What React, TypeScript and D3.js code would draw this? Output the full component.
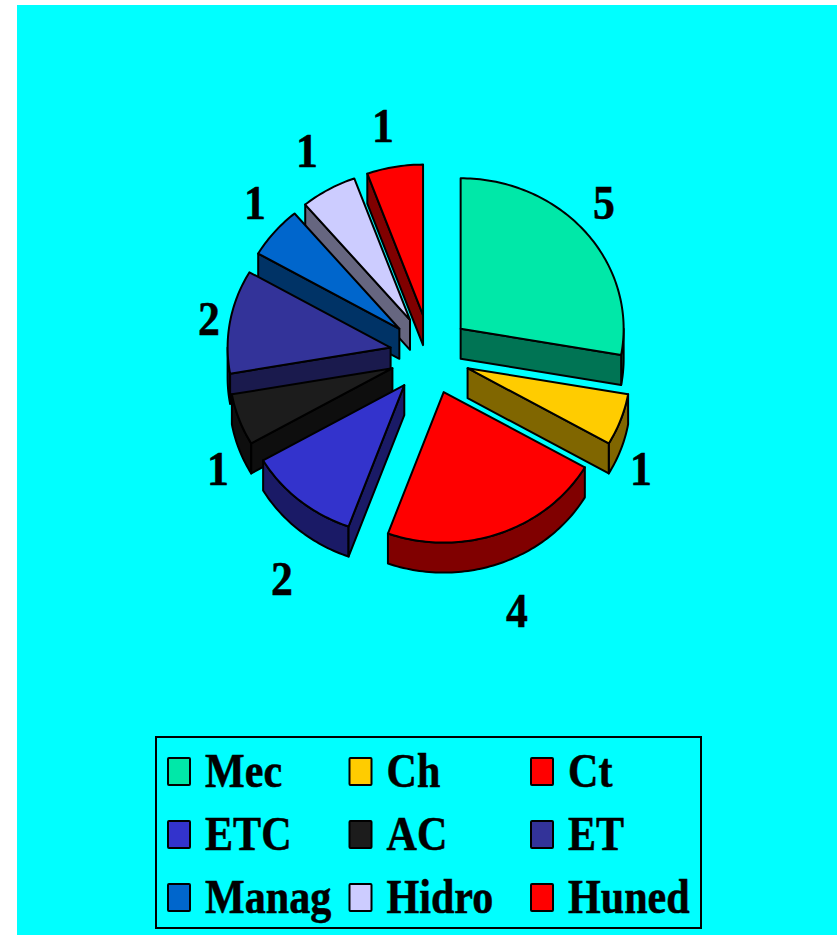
import React from "react";
import * as d3 from "d3";

const categories = ["Mec", "Ch", "Ct", "ETC", "AC", "ET", "Manag", "Hidro", "Huned"];
const values = [5, 1, 4, 2, 1, 2, 1, 1, 1];
const topColors = ["#00E8A8", "#FFCC00", "#FF0000", "#3333CC", "#1C1C1C", "#333399", "#0066CC", "#CCCCFF", "#FF0000"];
const sideColors = ["#007454", "#806600", "#800000", "#1A1A66", "#0E0E0E", "#1A1A4D", "#003366", "#666680", "#800000"];
const drawOrder = [8, 7, 6, 5, 4, 3, 0, 1, 2];
// data label placement [centre x, baseline y]
const labelAnchors: [number, number][] = [
  [604, 219], [641, 485], [517, 627], [282, 595], [218, 485], [209, 335], [255, 219], [307, 167], [383, 142],
];

const W = 837, H = 935;
const CX = 430, CY = 354.5, RX = 163, RY = 150.5, DEPTH = 30, EXPLODE = 40;
const FONT = "'Liberation Serif', 'Times New Roman', serif";

const pie = d3.pie<number>().sort(null).startAngle(0).endAngle(2 * Math.PI);
const arcs = pie(values);
const line = d3.line<[number, number]>();

function pt(apex: [number, number], a: number, dy = 0): [number, number] {
  return [apex[0] + RX * Math.sin(a), apex[1] - RY * Math.cos(a) + dy];
}
function arcPts(apex: [number, number], a0: number, a1: number, dy = 0): [number, number][] {
  const n = Math.max(2, Math.ceil((a1 - a0) / 0.02));
  return d3.range(n + 1).map((i) => pt(apex, a0 + ((a1 - a0) * i) / n, dy));
}

function Slice({ i }: { i: number }) {
  const { startAngle: a0, endAngle: a1 } = arcs[i];
  const mid = (a0 + a1) / 2;
  const apex: [number, number] = [CX + EXPLODE * Math.sin(mid), CY - EXPLODE * Math.cos(mid)];
  const low: [number, number] = [apex[0], apex[1] + DEPTH];
  const sides: [number, number][][] = [];
  if (Math.sin(a0) < 0) {
    sides.push([apex, pt(apex, a0), pt(apex, a0, DEPTH), low]);
  }
  if (Math.sin(a1) > 0) {
    sides.push([apex, pt(apex, a1), pt(apex, a1, DEPTH), low]);
  }
  const w0 = Math.max(a0, Math.PI / 2);
  const w1 = Math.min(a1, (3 * Math.PI) / 2);
  const wall =
    w1 > w0 ? [...arcPts(apex, w0, w1), ...arcPts(apex, w0, w1, DEPTH).reverse()] : null;
  const top: [number, number][] = [apex, ...arcPts(apex, a0, a1)];
  const common = { stroke: "#000", strokeWidth: 2, strokeLinejoin: "round" as const };
  return (
    <g>
      {wall && <path d={line(wall) + "Z"} fill={sideColors[i]} {...common} />}
      {sides.map((s, k) => (
        <path key={k} d={line(s) + "Z"} fill={sideColors[i]} {...common} />
      ))}
      <path d={line(top) + "Z"} fill={topColors[i]} {...common} />
    </g>
  );
}

const colX = d3.scalePoint<number>().domain([0, 1, 2]).range([168, 531]);
const rowY = d3.scalePoint<number>().domain([0, 1, 2]).range([758, 884]);

export default function App() {
  return (
    <svg
      width={W}
      height={H}
      viewBox={`0 0 ${W} ${H}`}
      style={{ position: "absolute", left: 0, top: 0, display: "block" }}
    >
      <rect x={0} y={0} width={W} height={H} fill="#FFFFFF" />
      <rect x={17} y={5} width={W - 17} height={H - 5} fill="#00FFFF" />
      {drawOrder.map((i) => (
        <Slice key={i} i={i} />
      ))}
      {values.map((v, i) => (
        <text
          key={i}
          transform={`translate(${labelAnchors[i][0]},${labelAnchors[i][1]}) scale(0.95,1.06)`}
          textAnchor="middle"
          fontFamily={FONT}
          fontWeight="bold"
          fontSize={46}
          fill="#000"
          stroke="#000"
          strokeWidth={0.5}
        >
          {v}
        </text>
      ))}
      <rect x={156} y={737} width={545} height={191} fill="none" stroke="#000" strokeWidth={2} />
      {categories.map((c, i) => {
        const x = colX(i % 3)!;
        const y = rowY(Math.floor(i / 3))!;
        return (
          <g key={c}>
            <rect x={x} y={y} width={22} height={27} rx={1} fill={topColors[i]} stroke="#000" strokeWidth={2} />
            <text
              transform={`translate(${x + 37},${y + 28.5}) scale(0.915,1.05)`}
              fontFamily={FONT}
              fontWeight="bold"
              fontSize={46}
              fill="#000"
              stroke="#000"
              strokeWidth={0.5}
            >
              {c}
            </text>
          </g>
        );
      })}
    </svg>
  );
}
